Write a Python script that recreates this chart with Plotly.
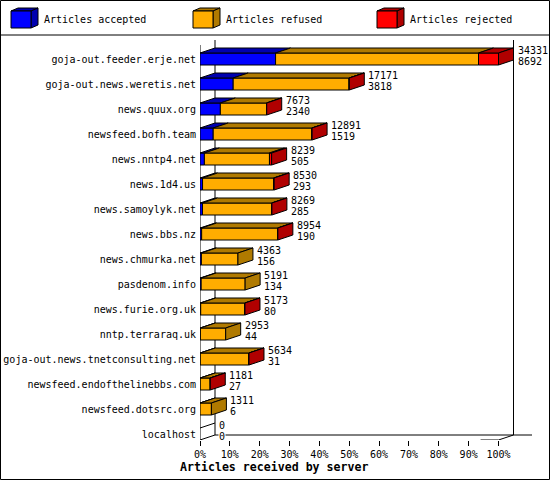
import plotly.graph_objects as go

# Articles received by server
servers = ["goja-out.feeder.erje.net", "goja-out.news.weretis.net", "news.quux.org",
           "newsfeed.bofh.team", "news.nntp4.net", "news.1d4.us", "news.samoylyk.net",
           "news.bbs.nz", "news.chmurka.net", "pasdenom.info", "news.furie.org.uk",
           "nntp.terraraq.uk", "goja-out.news.tnetconsulting.net",
           "newsfeed.endofthelinebbs.com", "newsfeed.dotsrc.org", "localhost"]
totals = [34331, 17171, 7673, 12891, 8239, 8530, 8269, 8954, 4363, 5191, 5173, 2953, 5634, 1181, 1311, 0]
accepted = [8692, 3818, 2340, 1519, 505, 293, 285, 190, 156, 134, 80, 44, 31, 27, 6, 0]
# rejected is not printed, estimated from the red parts of the bars
rejected = [2300, 30, 20, 30, 250, 60, 20, 20, 0, 0, 15, 0, 10, 10, 0, 0]
x_ticks = [0, 10, 20, 30, 40, 50, 60, 70, 80, 90, 100]

BLUE, BLUE_D = "#0000ff", "#0000b0"
ORANGE, ORANGE_D = "#ffad00", "#b07a00"
RED, RED_D = "#ff0000", "#b00000"
FONT = "DejaVu Sans Mono"

# plot area in pixels
W, H = 550, 480
L, R, T, B = 200, 532, 40, 440
PX_PER_PCT = 2.985
PX_PER_ROW = 25
DX = 15 / PX_PER_PCT   # depth of the fake 3d
DY = 5 / PX_PER_ROW
HALF = 6 / PX_PER_ROW  # half bar height
x_max = (R - L) / PX_PER_PCT
y_top = -(59 - T) / PX_PER_ROW
y_bot = (B - 59) / PX_PER_ROW
top_val = max(totals)

fig = go.Figure()


def poly(xs, ys, color):
    fig.add_trace(go.Scatter(x=xs + xs[:1], y=ys + ys[:1], mode="lines", fill="toself",
                             fillcolor=color, line=dict(color="black", width=1),
                             hoverinfo="skip", showlegend=False, cliponaxis=False))


def line(xs, ys):
    fig.add_trace(go.Scatter(x=xs, y=ys, mode="lines", line=dict(color="black", width=1),
                             hoverinfo="skip", showlegend=False, cliponaxis=False))


# walls and floor
line([0, 0], [y_top + DY, y_bot])
line([DX, DX], [y_top, y_bot - DY])
line([100 + DX, 100 + DX], [y_top, y_bot - DY])
line([DX, x_max], [y_bot - DY, y_bot - DY])
line([94, 100], [y_bot, y_bot])  # only the last stub of the front edge shows
line([-DX, DX], [y_bot + DY, y_bot - DY])
line([100, 100 + DX], [y_bot, y_bot - DY])

# bars
for i, total in enumerate(totals):
    if total == 0:
        line([0, DX], [i - HALF, i - HALF - DY])
    else:
        refused = total - accepted[i] - rejected[i]
        start = 0
        parts = [(accepted[i], BLUE, BLUE_D), (refused, ORANGE, ORANGE_D), (rejected[i], RED, RED_D)]
        parts = [p for p in parts if p[0] > 0]
        for val, col, dark in parts:
            x0 = start / top_val * 100
            x1 = (start + val) / top_val * 100
            start += val
            poly([x0, x1, x1, x0], [i - HALF, i - HALF, i + HALF, i + HALF], col)
            poly([x0, x1, x1 + DX, x0 + DX], [i - HALF, i - HALF, i - HALF - DY, i - HALF - DY], dark)
        end = total / top_val * 100
        poly([end, end + DX, end + DX, end],
             [i - HALF, i - HALF - DY, i + HALF - DY, i + HALF], parts[-1][2])
    # number labels right of the bar
    for text, off in ((total, -9), (accepted[i], 2)):
        fig.add_annotation(x=total / top_val * 100 + DX + 3 / PX_PER_PCT, y=i + off / PX_PER_ROW,
                           text=str(text), showarrow=False, xanchor="left", yanchor="middle",
                           bgcolor="white", borderpad=0,
                           font=dict(family=FONT, size=10, color="black"))


def px(x):
    return (x - L) / (R - L)


def py(y):
    return (B - y) / (B - T)


def path(points):
    return "M " + " L ".join(f"{px(x)} {py(y)}" for x, y in points) + " Z"


# legend and frame
shapes = []
legend = [(11, BLUE, BLUE_D, "Articles accepted"), (193, ORANGE, ORANGE_D, "Articles refused"),
          (377, RED, RED_D, "Articles rejected")]
for x0, col, dark, text in legend:
    x1 = x0 + 20
    for pts, fill in (([(x0, 11), (x1, 11), (x1 + 7, 8), (x0 + 7, 8)], dark),
                      ([(x1, 11), (x1 + 7, 8), (x1 + 7, 25), (x1, 28)], dark),
                      ([(x0, 11), (x1, 11), (x1, 28), (x0, 28)], col)):
        shapes.append(dict(type="path", xref="paper", yref="paper", path=path(pts), fillcolor=fill,
                           line=dict(color="black", width=1)))
    fig.add_annotation(xref="paper", yref="paper", x=px(x0 + 31), y=py(20), text=text, showarrow=False,
                       xanchor="left", yanchor="middle", font=dict(family=FONT, size=10, color="black"))
shapes.append(dict(type="line", xref="paper", yref="paper", x0=px(0), x1=px(W), y0=py(35), y1=py(35),
                   line=dict(color="black", width=1)))
shapes.append(dict(type="rect", xref="paper", yref="paper", x0=px(0.5), x1=px(W - 0.5), y0=py(0.5),
                   y1=py(H - 0.5), line=dict(color="black", width=1)))

fig.add_annotation(xref="paper", yref="paper", x=px(274), y=py(467), text="<b>Articles received by server</b>",
                   showarrow=False, xanchor="center", yanchor="middle",
                   font=dict(family=FONT, size=11.6, color="black"))

fig.update_layout(
    width=W, height=H, margin=dict(l=L, r=W - R, t=T, b=H - B, autoexpand=False),
    paper_bgcolor="white", plot_bgcolor="white", showlegend=False, shapes=shapes,
    xaxis=dict(range=[0, x_max], tickmode="array", tickvals=x_ticks, ticktext=[f"{v}%" for v in x_ticks],
               ticks="outside", ticklen=5, tickcolor="black", tickwidth=1, showgrid=False, zeroline=False,
               showline=False, automargin=False, tickfont=dict(family=FONT, size=10, color="black")),
    yaxis=dict(range=[y_bot, y_top], tickmode="array", tickvals=list(range(len(servers))), ticktext=servers,
               ticks="", showgrid=False, zeroline=False, showline=False, automargin=False,
               ticklabelstandoff=3, tickfont=dict(family=FONT, size=10, color="black")),
)

# page has an 8px body margin by default, drop it so the frame fills the window
fig.write_html("out.html", config=dict(displayModeBar=False), post_script="document.body.style.margin='0';")
